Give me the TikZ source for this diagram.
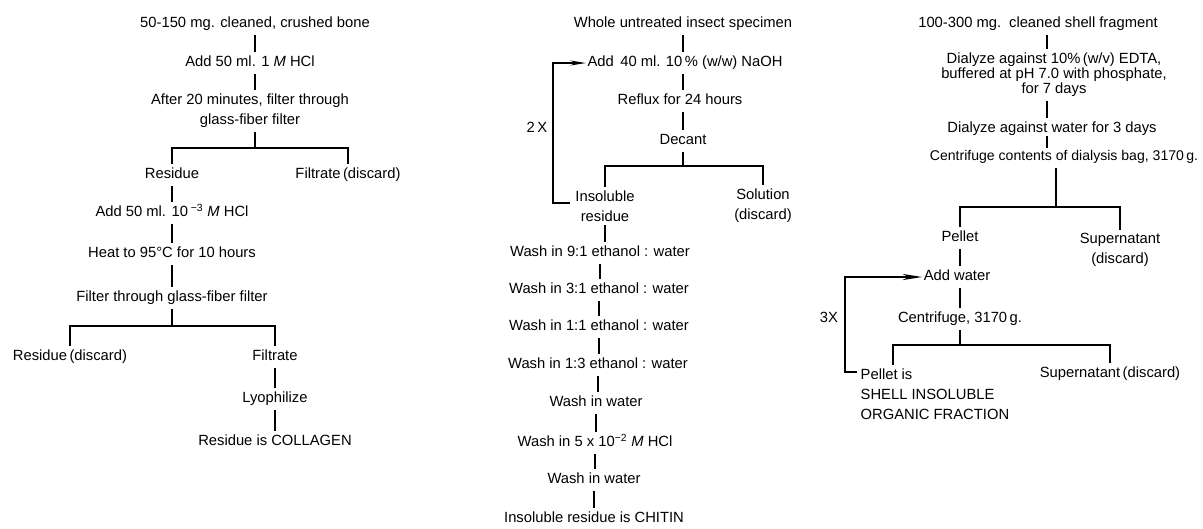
\documentclass[tikz,border=0pt]{standalone}
\usepackage{fontspec}
\setmainfont{Liberation Sans}
\usetikzlibrary{arrows.meta}

\begin{document}
\begin{tikzpicture}[x=0.025cm, y=-0.025cm]

\tikzstyle{stage} = [text centered, inner xsep=1pt, inner ysep=2.5pt, text height=8pt, text depth=2.5pt, font=\fontsize{10.5}{14.2}\selectfont]
\tikzstyle{block} = [align=center, inner xsep=1pt, inner ysep=2.5pt, font=\fontsize{10.5}{14.2}\selectfont]
\tikzstyle{tight block} = [block, font=\fontsize{10.5}{10.6}\selectfont]
\tikzstyle{line} = [line width=1.1pt]
\tikzstyle{arrow} = [line width=1.1pt, -{Stealth[length=11pt, width=3.6pt]}]
\tikzstyle{long arrow} = [line width=1.1pt, -{Stealth[length=14pt, width=4.4pt]}]

\useasboundingbox (0,0) rectangle (1203,528);

% bone
\node (bone) [stage] at (255,24) {50-150 mg. cleaned, crushed bone};
\node (hcl1) [stage] at (250,63) {Add 50 ml. 1 \textit{M} HCl};
\node (filt1) [block] at (250,111) {After 20 minutes, filter through\\glass-fiber filter};
\coordinate (br1) at (0,148);
\node (res1) [stage] at (172,175) {Residue};
\node (dis1) [stage] at (348,175) {Filtrate\,(discard)};
\node (hcl2) [stage] at (172,213) {Add 50 ml. 10\textsuperscript{ −3} \textit{M} HCl};
\node (heat) [stage] at (172,254) {Heat to 95°C for 10 hours};
\node (filt2) [stage] at (172,298) {Filter through glass-fiber filter};
\coordinate (br2) at (0,326);
\node (dis2) [stage] at (70,357) {Residue\,(discard)};
\node (filtr) [stage] at (275,357) {Filtrate};
\node (lyo) [stage] at (275,399) {Lyophilize};
\node (coll) [stage] at (275,442) {Residue is COLLAGEN};

% insect
\node (spec) [stage] at (683,24) {Whole untreated insect specimen};
\node (naoh) [stage] at (685,63) {Add\, 40 ml. 10\,\% (w/w) NaOH};
\node (reflux) [stage] at (680,101) {Reflux for 24 hours};
\node (decant) [stage] at (683,141) {Decant};
\coordinate (br3) at (0,166);
\node (insol) [block] at (605,206) {Insoluble\\residue};
\node (soln) [block] at (763,206) {Solution\\(discard)};
\node (twice) [stage] at (537,129) {2\,X};
\coordinate (loop2) at (553,0);
\coordinate (ret2) at ([xshift=-3pt, yshift=2pt]insol.west);
\node (w1) [stage] at (600,253) {Wash in 9:1 ethanol : water};
\node (w2) [stage] at (599,290) {Wash in 3:1 ethanol : water};
\node (w3) [stage] at (599,327) {Wash in 1:1 ethanol : water};
\node (w4) [stage] at (598,365) {Wash in 1:3 ethanol : water};
\node (w5) [stage] at (596,403) {Wash in water};
\node (w6) [stage] at (595,443) {Wash in 5 x 10\textsuperscript{−2} \textit{M} HCl};
\node (w7) [stage] at (594,480) {Wash in water};
\node (chitin) [stage] at (594,519) {Insoluble residue is CHITIN};

% shell
\node (shell) [stage] at (1038,24) {100-300 mg.\, cleaned shell fragment};
\node (edta) [tight block] at (1054,75) {Dialyze against 10\%\,(w/v) EDTA,\\buffered at pH 7.0 with phosphate,\\for 7 days};
\node (dwater) [stage] at (1052,129) {Dialyze against water for 3 days};
\node (cent1) [stage, font=\fontsize{10}{12}\selectfont] at (1064,157) {Centrifuge contents of dialysis bag, 3170\,g.};
\coordinate (col3) at (1047,0);
\coordinate (stem4) at (1056,0);
\coordinate (br4) at (0,207);
\node (pel1) [stage] at (960,238) {Pellet};
\node (sup1) [block] at (1120,250) {Supernatant\\(discard)};
\node (water) [stage] at (957,277) {Add water};
\node (cent2) [stage] at (960,319) {Centrifuge, 3170\,g.};
\coordinate (br5) at (0,345);
\coordinate (tick5) at (893,0);
\node (pel2) [block, align=left, anchor=west] at (859,394) {Pellet is\\SHELL INSOLUBLE\\ORGANIC FRACTION};
\node (sup2) [stage] at (1110,374) {Supernatant\,(discard)};
\node (thrice) [stage] at (829,319) {3X};
\coordinate (loop3) at (845,0);
\coordinate (ret3) at (857,372);

\draw [line] (bone) -- (bone |- hcl1.north);
\draw [line] (bone |- hcl1.south) -- (bone |- filt1.north);
\draw [line] (bone |- filt1.south) -- (bone |- br1);
\draw [line] (res1.north) -- (res1 |- br1) -- (dis1 |- br1) -- (dis1.north);
\draw [line] (res1) -- (hcl2);
\draw [line] (hcl2) -- (heat);
\draw [line] (heat) -- (filt2);
\draw [line] (filt2) -- (filt2 |- br2);
\draw [line] (dis2.north) -- (dis2 |- br2) -- (filtr |- br2) -- (filtr.north);
\draw [line] (filtr) -- (lyo);
\draw [line] (lyo) -- (coll);

\draw [line] (spec) -- (spec |- naoh.north);
\draw [line] (spec |- naoh.south) -- (spec |- reflux.north);
\draw [line] (spec |- reflux.south) -- (spec |- decant.north);
\draw [line] (decant) -- (decant |- br3);
\draw [line] (insol.north) -- (insol |- br3) -- (soln |- br3) -- (soln.north);
\draw [arrow] (ret2) -- (loop2 |- ret2) |- (naoh.west);
\draw [line] (insol.south) -- (insol |- w1.north);
\draw [line] (w1) -- (w1 |- w2.north);
\draw [line] (w2) -- (w2 |- w3.north);
\draw [line] (w3) -- (w3 |- w4.north);
\draw [line] (w4) -- (w4 |- w5.north);
\draw [line] (w5) -- (w5 |- w6.north);
\draw [line] (w6) -- (w6 |- w7.north);
\draw [line] (w7) -- (w7 |- chitin.north);

\draw [line] (col3 |- shell.south) -- (col3 |- edta.north);
\draw [line] (col3 |- edta.south) -- (col3 |- dwater.north);
\draw [line] ([yshift=3pt]col3 |- dwater.south) -- ([yshift=-1.5pt]col3 |- cent1.north);
\draw [line] (stem4 |- cent1.south) -- (stem4 |- br4);
\draw [line] (pel1.north) -- (pel1 |- br4) -- (sup1 |- br4) -- (sup1.north);
\draw [line] (pel1) -- (pel1 |- water.north);
\draw [line] (pel1 |- water.south) -- (pel1 |- cent2.north);
\draw [line] (cent2) -- (cent2 |- br5);
\draw [line] (tick5 |- pel2.north) -- (tick5 |- br5) -- (sup2 |- br5) -- (sup2.north);
\draw [long arrow] (ret3) -- (loop3 |- ret3) |- (water.west);

\end{tikzpicture}
\end{document}
